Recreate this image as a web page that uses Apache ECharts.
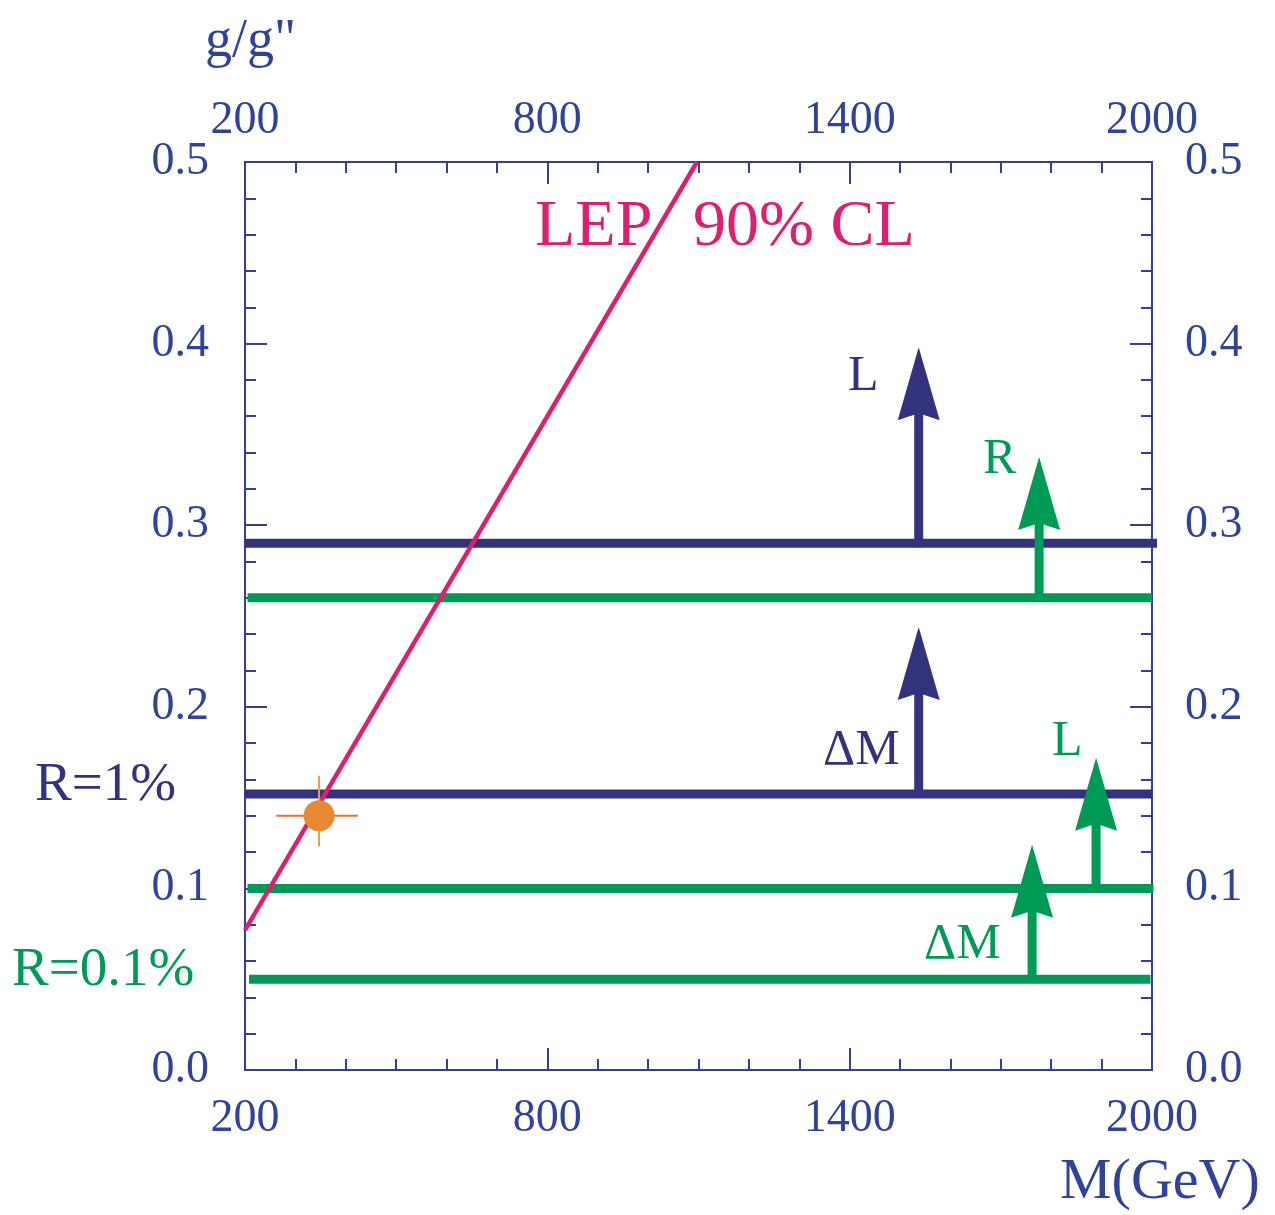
<!DOCTYPE html>
<html>
<head>
<meta charset="utf-8">
<script src="https://cdn.jsdelivr.net/npm/echarts@6/dist/echarts.min.js"></script>
<style>
  html, body { margin: 0; padding: 0; background: #fff; }
  #main { width: 1275px; height: 1215px; }
</style>
</head>
<body>
<div id="main"></div>
<script>
"use strict";
// 坐标轴刻度
const xTicks = [200, 800, 1400, 2000];
const yTicks = [0.0, 0.1, 0.2, 0.3, 0.4, 0.5];

// 水平限制线 [M起点, M终点, g/g'']
const blueLimits = [[200, 2010, 0.29], [200, 2000, 0.152]];
const greenLimits = [[205, 2000, 0.26], [205, 2003, 0.10], [208, 1997, 0.05]];

// 箭头 [M, 起点, 终点]
const blueArrows = [[1537, 0.29, 0.398], [1537, 0.152, 0.244]];
const greenArrows = [[1776, 0.26, 0.3375], [1889, 0.10, 0.172], [1762, 0.05, 0.124]];

// LEP 90% CL 直线
const lepLine = [[200, 0.077], [1097, 0.5]];

// 数据点及误差 [M, g, Mlo, Mhi, glo, ghi]
const point = [[347, 0.14, 262, 424, 0.123, 0.162]];

const NAVY = '#33337d';
const GREEN = '#009a57';
const PINK = '#dc1f6e';
const ORANGE = '#e58a32';
const AXIS = '#363f8f';
const TEXT = '#30439a';
const FONT = '"Liberation Serif", "DejaVu Serif", serif';

const chart = echarts.init(document.getElementById('main'));

function limitSeries(list, color) {
  return list.map(l => ({
    type: 'line',
    data: [[l[0], l[2]], [l[1], l[2]]],
    symbol: 'none',
    clip: false,
    lineStyle: { color: color, width: 9 },
    z: 3
  }));
}

function renderArrow(params, api) {
  const base = api.coord([api.value(0), api.value(1)]);
  const tip = api.coord([api.value(0), api.value(2)]);
  const color = api.visual('color');
  const headLen = 73, headW = 21, notch = 7;
  return {
    type: 'group',
    children: [
      { type: 'line', shape: { x1: base[0], y1: base[1] + 4, x2: tip[0], y2: tip[1] + headLen - notch },
        style: { stroke: color, lineWidth: 9 } },
      { type: 'polygon', shape: { points: [[tip[0], tip[1]], [tip[0] + headW, tip[1] + headLen],
        [tip[0], tip[1] + headLen - notch], [tip[0] - headW, tip[1] + headLen]] },
        style: { fill: color } }
    ]
  };
}

function renderCross(params, api) {
  const c = api.coord([api.value(0), api.value(1)]);
  const l = api.coord([api.value(2), api.value(1)]);
  const r = api.coord([api.value(3), api.value(1)]);
  const b = api.coord([api.value(0), api.value(4)]);
  const t = api.coord([api.value(0), api.value(5)]);
  return {
    type: 'group',
    children: [
      { type: 'line', shape: { x1: l[0], y1: c[1], x2: r[0], y2: c[1] }, style: { stroke: '#e8703c', lineWidth: 2 } },
      { type: 'line', shape: { x1: c[0], y1: t[1], x2: c[0], y2: b[1] }, style: { stroke: '#eb9a66', lineWidth: 2 } }
    ]
  };
}

const xAxisBase = {
  type: 'value', min: xTicks[0], max: xTicks[xTicks.length - 1], interval: 600,
  axisLine: { show: true, onZero: false, lineStyle: { color: AXIS, width: 2 } },
  axisTick: { show: true, inside: true, length: 22, lineStyle: { color: AXIS, width: 2 } },
  minorTick: { show: true, splitNumber: 6, length: 11, lineStyle: { color: AXIS, width: 2 } },
  splitLine: { show: false },
  axisLabel: { color: TEXT, fontFamily: FONT, fontSize: 46, formatter: v => String(v) }
};
const yAxisBase = {
  type: 'value', min: yTicks[0], max: yTicks[yTicks.length - 1], interval: 0.1,
  axisLine: { show: true, onZero: false, lineStyle: { color: AXIS, width: 2 } },
  axisTick: { show: true, inside: true, length: 22, lineStyle: { color: AXIS, width: 2 } },
  minorTick: { show: true, splitNumber: 5, length: 11, lineStyle: { color: AXIS, width: 2 } },
  splitLine: { show: false },
  axisLabel: { color: TEXT, fontFamily: FONT, fontSize: 46, margin: 36, formatter: v => v.toFixed(1) }
};

function txt(text, x, y, size, color) {
  return { type: 'text', x: x, y: y,
    style: { text: text, fontFamily: FONT, fontSize: size, fill: color, verticalAlign: 'middle' } };
}

const option = {
  animation: false,
  backgroundColor: '#fff',
  grid: { left: 245, right: 123, top: 162, bottom: 145 },
  xAxis: [
    Object.assign({}, xAxisBase, { position: 'bottom',
      axisLabel: Object.assign({}, xAxisBase.axisLabel, { margin: 26 }) }),
    Object.assign({}, xAxisBase, { position: 'top',
      axisLabel: Object.assign({}, xAxisBase.axisLabel, { margin: 18 }) })
  ],
  yAxis: [
    Object.assign({}, yAxisBase, { position: 'left' }),
    Object.assign({}, yAxisBase, { position: 'right',
      axisLabel: Object.assign({}, yAxisBase.axisLabel, { margin: 33 }) })
  ],
  series: [
    ...limitSeries(greenLimits, GREEN),
    ...limitSeries(blueLimits, NAVY),
    {
      type: 'line', data: lepLine, symbol: 'none',
      lineStyle: { color: PINK, width: 4.5 }, z: 5
    },
    {
      type: 'custom', renderItem: renderArrow, data: blueArrows,
      itemStyle: { color: NAVY }, encode: { x: 0, y: [1, 2] }, z: 4
    },
    {
      type: 'custom', renderItem: renderArrow, data: greenArrows,
      itemStyle: { color: GREEN }, encode: { x: 0, y: [1, 2] }, z: 4
    },
    {
      type: 'custom', renderItem: renderCross, data: point,
      encode: { x: [0, 2, 3], y: [1, 4, 5] }, z: 6
    },
    {
      type: 'scatter', data: point.map(p => [p[0], p[1]]), symbolSize: 31,
      itemStyle: { color: ORANGE, opacity: 1 }, z: 7
    }
  ],
  graphic: [
    txt('g/g"', 205, 42, 54, TEXT),
    txt('M(GeV)', 1060, 1183, 58, TEXT),
    txt('LEP', 535, 228, 66, PINK),
    txt('90% CL', 693, 228, 66, PINK),
    txt('R=1%', 35, 786, 55, NAVY),
    txt('R=0.1%', 12, 971, 55, GREEN),
    txt('L', 848, 377, 50, NAVY),
    txt('ΔM', 823, 751, 50, NAVY),
    txt('R', 983, 460, 50, GREEN),
    txt('L', 1052, 742, 50, GREEN),
    txt('ΔM', 924, 945, 50, GREEN)
  ]
};

chart.setOption(option);
</script>
</body>
</html>
